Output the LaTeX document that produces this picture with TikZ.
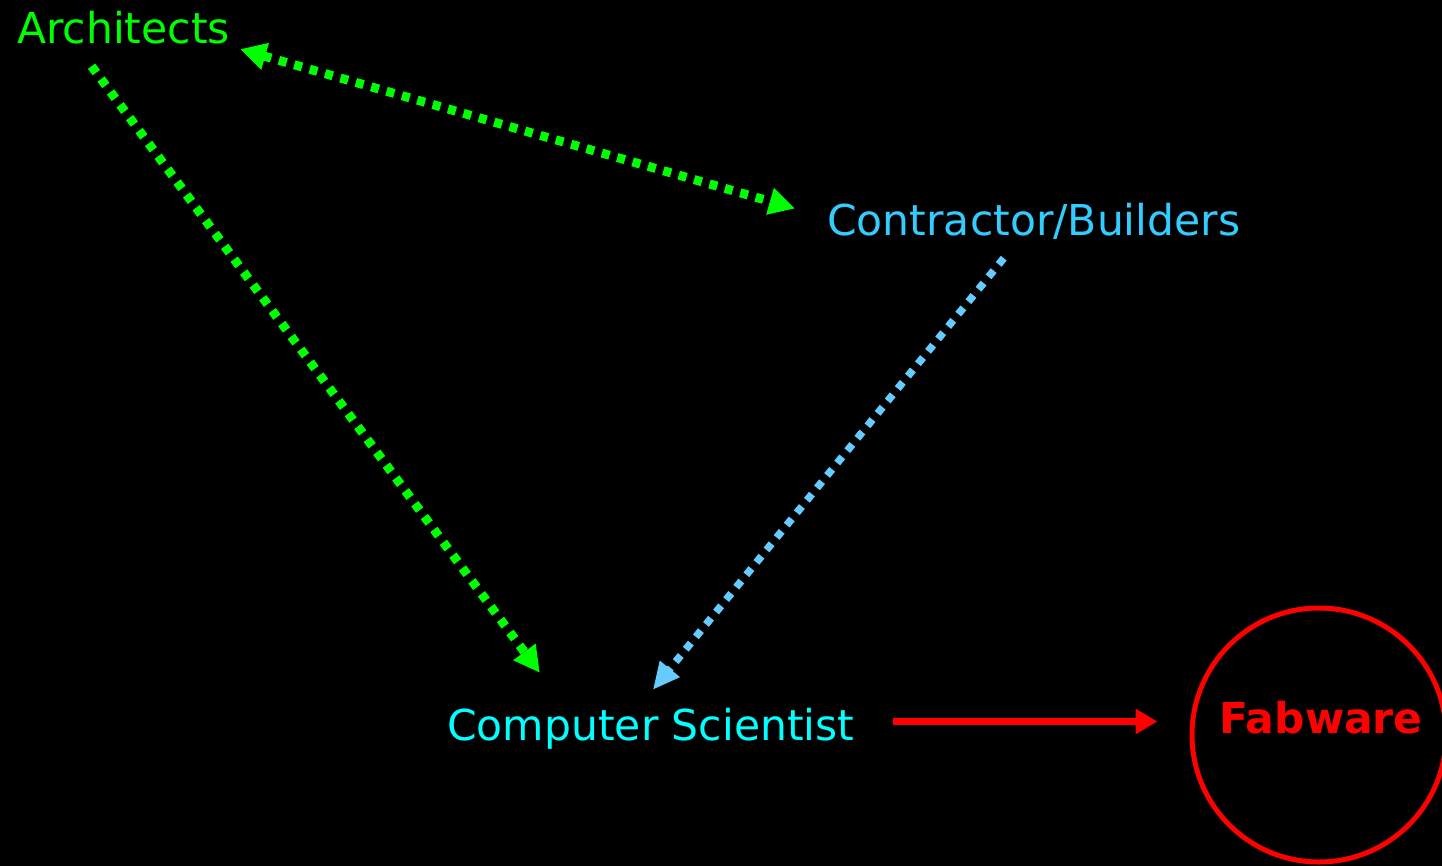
\documentclass[tikz,border=0pt]{standalone}
\usepackage{fontspec}
\setmainfont{DejaVu Sans}
\usetikzlibrary{arrows.meta,positioning}
\definecolor{archgreen}{RGB}{0,255,0}
\definecolor{contblue}{RGB}{51,204,255}
\definecolor{linkblue}{RGB}{102,204,255}
\definecolor{cscyan}{RGB}{0,255,255}
\definecolor{fabred}{RGB}{255,0,0}

\begin{document}
\begin{tikzpicture}[x=1pt, y=-1pt,
  who/.style={font=\fontsize{42.5}{50}\selectfont, text height=32pt, text depth=9pt, inner sep=2pt, anchor=base west},
  dots/.style={line width=9pt, dash pattern=on 8pt off 8pt},
  garr/.style={dots, draw=archgreen, -{Triangle[length=26pt,width=26pt]}},
  barr/.style={dots, line width=7.5pt, draw=linkblue, -{Triangle[length=27pt,width=24pt]}},
  rarr/.style={line width=7pt, draw=fabred, -{Triangle[length=22pt,width=24pt]}}]
  % ---------------- canvas
  \fill[black] (0,0) rectangle (1442,866);
  \useasboundingbox (0,0) rectangle (1442,866);
  % ---------------- roles
  \node[who, text=archgreen] (arch) at (15,44) {Architects};
  \node[who, text=contblue] (cont) at (825,236) {Contractor/Builders};
  \node[who, text=cscyan] (cs) at (445,740) {Computer Scientist};
  \node[draw=fabred, line width=5pt, circle, minimum size=254pt] (fab) at (1319,735) {};
  \node[font=\bfseries\fontsize{42.5}{50}\selectfont, text=fabred, anchor=base, inner sep=0pt] (fabtxt) at (1321,733) {Fabware};
  % ---------------- links
  \draw[garr, {Triangle[length=26pt,width=26pt]}-{Triangle[length=26pt,width=26pt]}]
    ([xshift=8pt,yshift=6pt]arch.south east) -- ([xshift=-30pt,yshift=16pt]cont.west);
  \draw[garr] ([xshift=-32pt,yshift=-11pt]arch.south) -- ([xshift=-111pt,yshift=33pt]cs.north);
  \draw[barr] ([xshift=-30pt,yshift=-11pt]cont.south) -- ([xshift=2pt,yshift=16pt]cs.north);
  \draw[rarr] ([xshift=36pt,yshift=7pt]cs.east) -- ([xshift=-32pt,yshift=13.5pt]fab.west);
\end{tikzpicture}
\end{document}
